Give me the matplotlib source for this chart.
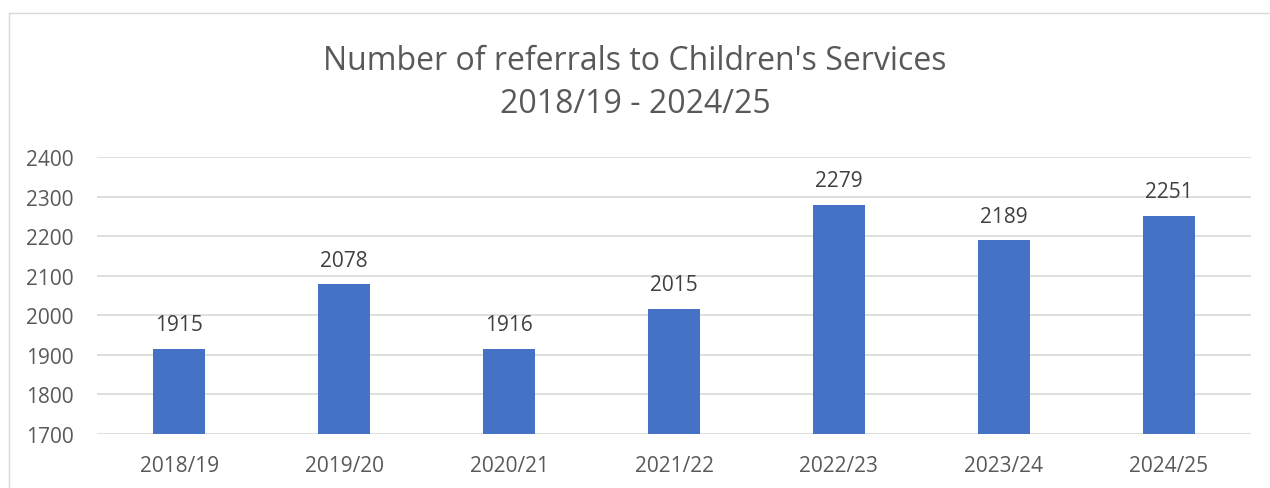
import matplotlib.pyplot as plt
from matplotlib.lines import Line2D

years = ["2018/19", "2019/20", "2020/21", "2021/22", "2022/23", "2023/24", "2024/25"]
referrals = [1915, 2078, 1916, 2015, 2279, 2189, 2251]
y_ticks = [1700, 1800, 1900, 2000, 2100, 2200, 2300, 2400]

plt.rcParams["font.family"] = ["Open Sans", "DejaVu Sans"]
text_col = "#595959"

fig = plt.figure(figsize=(12.7, 4.89), dpi=100)
ax = fig.add_axes([97 / 1270, 1 - 435 / 489, (1251 - 97) / 1270, (435 - 158) / 489])

x = range(len(years))
bars = ax.bar(x, referrals, width=0.315, color="#4472C4", zorder=3)
ax.bar_label(bars, labels=[str(v) for v in referrals], padding=10,
             fontsize=15, color="#404040")

ax.set_xlim(-0.5, len(years) - 0.5)
ax.set_ylim(1700, 2400)
ax.set_yticks(y_ticks)
ax.set_xticks(list(x))
ax.set_xticklabels(years)
ax.tick_params(axis="both", length=0, labelsize=15, colors=text_col)
ax.tick_params(axis="y", pad=17)
ax.tick_params(axis="x", pad=15)
ax.grid(axis="y", color="#D9D9D9", linewidth=1.2, zorder=0)
for s in ax.spines.values():
    s.set_visible(False)

fig.text(0.5, 1 - 70 / 489, "Number of referrals to Children's Services",
         ha="center", va="baseline", fontsize=23, color=text_col)
fig.text(0.5, 1 - 113 / 489, "2018/19 - 2024/25",
         ha="center", va="baseline", fontsize=23, color=text_col)

# chart frame (top and left edges visible in the crop)
fig.add_artist(Line2D([9 / 1270, 1], [1 - 14 / 489, 1 - 14 / 489],
                      transform=fig.transFigure, color="#D9D9D9", linewidth=1))
fig.add_artist(Line2D([9 / 1270, 9 / 1270], [0, 1 - 14 / 489],
                      transform=fig.transFigure, color="#D9D9D9", linewidth=1))

fig.savefig("out.png", dpi=100)
